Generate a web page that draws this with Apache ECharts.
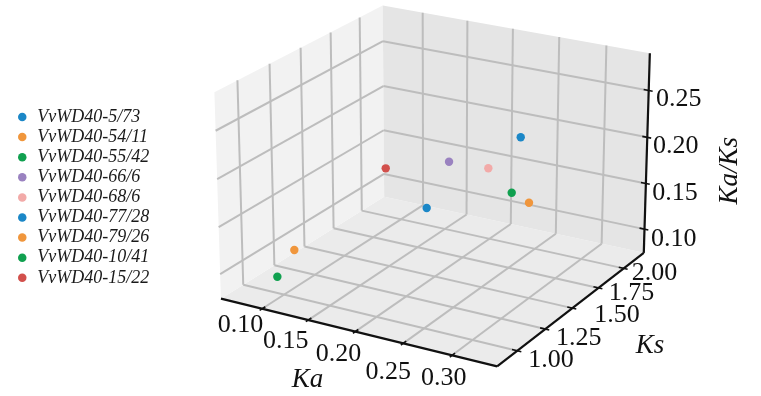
<!DOCTYPE html>
<html><head><meta charset="utf-8">
<script src="https://cdn.jsdelivr.net/npm/echarts/dist/echarts.min.js"></script>
<style>html,body{margin:0;padding:0;background:#fff}#chart{width:761px;height:396px}</style>
</head><body><div id="chart"></div>
<script>
// ---- data ----
const names = ['VvWD40-5/73','VvWD40-54/11','VvWD40-55/42','VvWD40-66/6','VvWD40-68/6','VvWD40-77/28','VvWD40-79/26','VvWD40-10/41','VvWD40-15/22'];
const ka   = [0.3235, 0.2533, 0.2735, 0.2639, 0.2845, 0.2170, 0.1229, 0.0910, 0.2204];
const ks   = [1.2002, 1.9070, 1.5655, 1.0961, 1.2592, 1.2905, 0.9238, 1.0138, 0.9258];
const kaks = [0.2695, 0.1328, 0.1747, 0.2407, 0.2259, 0.1682, 0.1330, 0.0897, 0.2380];
const kaTicks   = [0.10, 0.15, 0.20, 0.25, 0.30];
const ksTicks   = [1.00, 1.25, 1.50, 1.75, 2.00];
const kaksTicks = [0.10, 0.15, 0.20, 0.25];
const kaTickLabels   = ['0.10','0.15','0.20','0.25','0.30'];
const ksTickLabels   = ['1.00','1.25','1.50','1.75','2.00'];
const kaksTickLabels = ['0.10','0.15','0.20','0.25'];
const colors = ['#1b87c7','#f0963c','#10a04f','#9a82c0','#f2aaa8','#1b87c7','#f0963c','#10a04f','#d2504c'];

// ---- 3D view (axis extents + camera), matplotlib-style perspective ----
const view = {
  xlim: [0.0545609, 0.345234], ylim: [0.82598, 2.20441], zlim: [0.0737407, 0.289316],
  aspect: [1, 1.00599, 0.695582], dist: 10, elev: 21.368, azim: -60.0302,
  scale: 2705.63, cx: 436.544, cy: 175.295
};
// ---- layout (label offsets from tick position, px) ----
const layout = {
  xLabelOff: [[-21.7,16],[-22.5,20.7],[-16.7,23],[-15,28.4],[-8.3,22.7]],
  yLabelOff: [[33.8,9.7],[33.5,9.5],[44.6,7.3],[33,5.7],[30.7,4.8]],
  zLabelOff: [[29.2,9.9],[29,9.2],[28.4,8.9],[30.1,8.8]],
  labelDy: 0,
  kaTitle: [307.5, 380], ksTitle: [650, 346], kaksTitle: [729.5, 170.8]
};

const project = (function(){
  let a = view.aspect.slice(); const n = Math.hypot(a[0],a[1],a[2]);
  a = a.map(v => v * 1.8294640721620434 / n);
  const R = a.map(v => v/2);
  const e = view.elev*Math.PI/180, b = view.azim*Math.PI/180;
  const w = [Math.cos(e)*Math.cos(b), Math.cos(e)*Math.sin(b), Math.sin(e)];
  const eye = [R[0]+view.dist*w[0], R[1]+view.dist*w[1], R[2]+view.dist*w[2]];
  let u = [-w[1], w[0], 0]; const un = Math.hypot(u[0],u[1]); u = u.map(v => v/un);
  const v = [w[1]*u[2]-w[2]*u[1], w[2]*u[0]-w[0]*u[2], w[0]*u[1]-w[1]*u[0]];
  return function(X, Y, Z){
    const P = [(X-view.xlim[0])/(view.xlim[1]-view.xlim[0])*a[0],
               (Y-view.ylim[0])/(view.ylim[1]-view.ylim[0])*a[1],
               (Z-view.zlim[0])/(view.zlim[1]-view.zlim[0])*a[2]];
    const d = [P[0]-eye[0], P[1]-eye[1], P[2]-eye[2]];
    const xv = u[0]*d[0]+u[1]*d[1]+u[2]*d[2];
    const yv = v[0]*d[0]+v[1]*d[1]+v[2]*d[2];
    const zv = w[0]*d[0]+w[1]*d[1]+w[2]*d[2];
    return [view.cx + view.scale*xv/(-zv), view.cy - view.scale*yv/(-zv)];
  };
})();

const [x0,x1] = view.xlim, [y0,y1] = view.ylim, [z0,z1] = view.zlim;
const Rx = x1-x0, Ry = y1-y0;
const G = [];
function poly(pts, fill){ G.push({type:'polygon', silent:true, z:0, shape:{points: pts.map(p => project(p[0],p[1],p[2]))}, style:{fill: fill, stroke: null}}); }
function seg(A, B, stroke, lw, z){ const p = project(A[0],A[1],A[2]), q = project(B[0],B[1],B[2]);
  G.push({type:'line', silent:true, z: z, shape:{x1:p[0],y1:p[1],x2:q[0],y2:q[1]}, style:{stroke: stroke, lineWidth: lw, lineCap:'butt'}}); }
function txt(x, y, s, opt){ G.push(Object.assign({type:'text', silent:true, z:3, x:x, y:y,
  style:{text:s, fontFamily:'Liberation Serif', fontSize:26, fill:'#111', align:'center', verticalAlign:'middle'}}, opt||{})); }

// panes
poly([[x0,y0,z0],[x1,y0,z0],[x1,y1,z0],[x0,y1,z0]], '#ebebeb');
poly([[x0,y0,z0],[x0,y1,z0],[x0,y1,z1],[x0,y0,z1]], '#f2f2f2');
poly([[x0,y1,z0],[x1,y1,z0],[x1,y1,z1],[x0,y1,z1]], '#e5e5e5');
// grid lines
const gc = '#bdbdbd', gw = 2;
kaTicks.forEach(t => { seg([t,y0,z0],[t,y1,z0],gc,gw,1); seg([t,y1,z0],[t,y1,z1],gc,gw,1); });
ksTicks.forEach(t => { seg([x0,t,z0],[x1,t,z0],gc,gw,1); seg([x0,t,z0],[x0,t,z1],gc,gw,1); });
kaksTicks.forEach(t => { seg([x0,y0,t],[x0,y1,t],gc,gw,1); seg([x0,y1,t],[x1,y1,t],gc,gw,1); });
// axis lines
const ac = '#111', aw = 2.2;
seg([x0,y0,z0],[x1,y0,z0],ac,aw,2);
seg([x1,y0,z0],[x1,y1,z0],ac,aw,2);
seg([x1,y1,z0],[x1,y1,z1],ac,aw,2);
// ticks + labels
kaTicks.forEach((t,i) => { seg([t,y0-0.014*Ry,z0],[t,y0+0.018*Ry,z0],ac,1.6,2);
  const p = project(t,y0,z0), o = layout.xLabelOff[i]; txt(p[0]+o[0], p[1]+o[1]+layout.labelDy, kaTickLabels[i]); });
ksTicks.forEach((t,i) => { seg([x1+0.014*Rx,t,z0],[x1-0.018*Rx,t,z0],ac,1.6,2);
  const p = project(x1,t,z0), o = layout.yLabelOff[i]; txt(p[0]+o[0], p[1]+o[1]+layout.labelDy, ksTickLabels[i]); });
kaksTicks.forEach((t,i) => { seg([x1+0.014*Rx,y1,t],[x1-0.018*Rx,y1,t],ac,1.6,2);
  const p = project(x1,y1,t), o = layout.zLabelOff[i]; txt(p[0]+o[0], p[1]+o[1]+layout.labelDy, kaksTickLabels[i]); });
// axis titles
const titleStyle = s => ({text:s, fontFamily:'Liberation Serif', fontStyle:'italic', fontSize:27, fill:'#111', align:'center', verticalAlign:'middle'});
txt(layout.kaTitle[0], layout.kaTitle[1], 'Ka', {style: titleStyle('Ka')});
txt(layout.ksTitle[0], layout.ksTitle[1], 'Ks', {style: titleStyle('Ks')});
txt(layout.kaksTitle[0], layout.kaksTitle[1], 'Ka/Ks', {rotation: Math.PI/2, style: titleStyle('Ka/Ks')});

const series = names.map((nm, i) => ({
  type: 'custom', name: nm, coordinateSystem: 'none', z: 10,
  dimensions: ['Ka','Ks','KaKs'],
  data: [[ka[i], ks[i], kaks[i]]],
  itemStyle: { color: colors[i] },
  renderItem: function(params, api){
    const p = project(api.value(0), api.value(1), api.value(2));
    return { type: 'circle', shape: { cx: p[0], cy: p[1], r: 4.2 }, style: { fill: api.visual('color') } };
  }
}));

const chart = echarts.init(document.getElementById('chart'), null, {renderer:'canvas'});
chart.setOption({
  animation: false,
  backgroundColor: '#ffffff',
  graphic: { elements: G },
  legend: {
    data: names, orient: 'vertical', left: 13, top: 103,
    icon: 'circle', itemWidth: 20, itemHeight: 8.5, itemGap: 2.1,
    textStyle: { fontFamily: 'Liberation Serif', fontStyle: 'italic', fontSize: 18, color: '#1a1a1a', lineHeight: 14 }
  },
  series: series
});
</script></body></html>
